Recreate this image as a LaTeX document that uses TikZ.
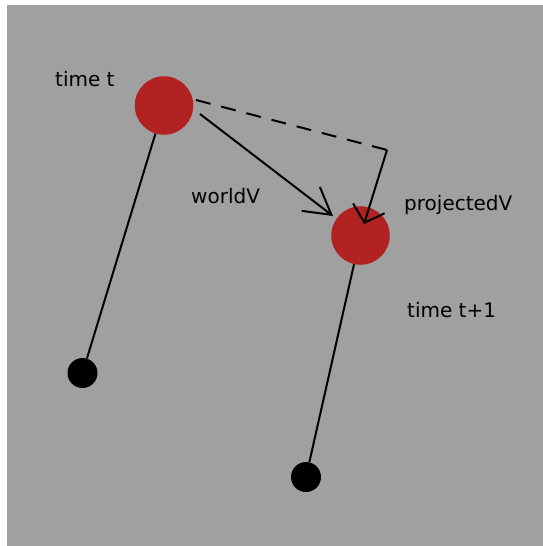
\documentclass[tikz,border=0pt]{standalone}
\usepackage{fontspec}
\setmainfont{DejaVu Sans}
\usetikzlibrary{arrows.meta}
\definecolor{panel}{RGB}{160,160,160}
\definecolor{ballred}{RGB}{178,34,34}
\tikzset{
  ball/.style={circle, fill=ballred, draw=none, inner sep=0pt, minimum size=58.5pt},
  weight/.style={circle, fill=black, draw=none, inner sep=0pt, minimum size=30pt},
  rod/.style={line width=2pt, black},
  vec/.style={line width=2pt, black},
  label/.style={anchor=base west, inner sep=0pt, font=\fontsize{20}{24}\selectfont}
}
\begin{document}
\begin{tikzpicture}[x=1pt, y=-1pt]
  % canvas
  \useasboundingbox (0,0) rectangle (543,546);
  \fill[white] (0,0) rectangle (543,546);
  \fill[panel] (7,5) rectangle (543,546);

  % bobs and weights
  \node[ball] (c1) at (164,105.5) {};
  \node[ball] (c2) at (360.5,235.5) {};
  \node[weight] (d1) at (82.5,373) {};
  \node[weight] (d2) at (306,477) {};

  % rods from bob to weight
  \draw[rod] (c1) -- (d1);
  \draw[rod] (c2) -- (d2);

  % velocity vectors
  \coordinate (wS) at (200,114);
  \coordinate (wE) at (333,216);
  \coordinate (pS) at (196,100);
  \coordinate (pK) at (387,150);
  \coordinate (pE) at (364,224);

  \draw[vec, -{Straight Barb[length=26pt, width=30pt]}] (wS) -- (wE);
  \draw[vec, dash pattern=on 15pt off 11pt] (pS) -- (pK);
  \draw[vec, -{Straight Barb[length=15pt, width=33pt]}] (pK) -- (pE);

  % labels
  \node[label] (lt) at (55,86) {time t};
  \node[label] (lw) at (191,203) {worldV};
  \node[label] (lp) at (404,210) {projectedV};
  \node[label] (lt1) at (407,317) {time t+1};
\end{tikzpicture}
\end{document}
